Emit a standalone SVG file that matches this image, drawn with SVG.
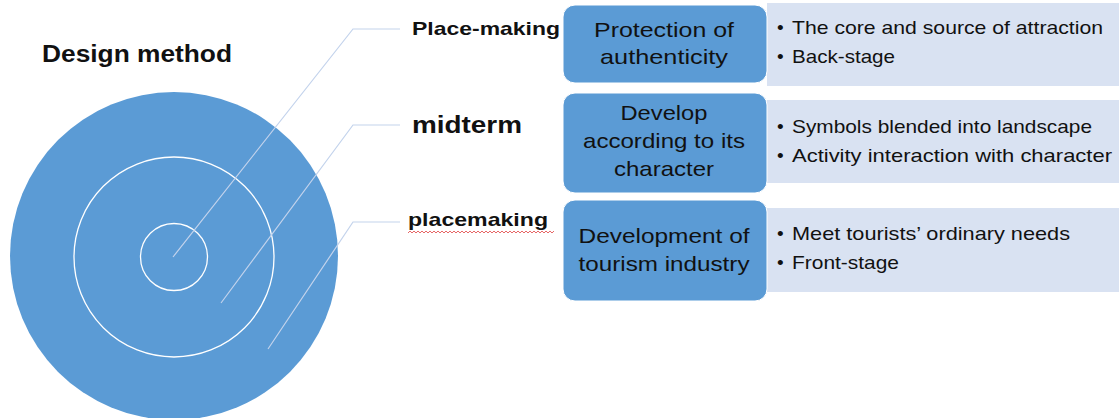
<svg xmlns="http://www.w3.org/2000/svg" width="1119" height="418" viewBox="0 0 1119 418">
<style>
.t{font-family:"Liberation Sans",Arial,sans-serif;fill:#111}
.b{font-weight:bold}
.box{fill:#5b9bd5;stroke:#ffffff;stroke-width:1}
.lt{fill:#d9e2f2}
.ring{fill:none;stroke:#ffffff;stroke-width:1.3}
.lead{fill:none;stroke:#c3d3ec;stroke-width:1.2}
.c{text-anchor:middle;font-size:21px}
.l{font-size:19px}
</style>
<rect width="1119" height="418" fill="#ffffff"/>
<g id="target">
<circle cx="174" cy="256" r="164" fill="#5b9bd5"/>
<circle class="ring" cx="174" cy="257" r="100"/>
<circle class="ring" cx="174" cy="257" r="33.5"/>
</g>
<g id="connectors">
<polyline class="lead" points="173,257 353,29 400,29"/>
<polyline class="lead" points="221,303 353,125 400,125"/>
<polyline class="lead" points="268,349 353,222 400,222"/>
</g>
<g id="title"><text class="t b" x="42" y="62" font-size="23" textLength="190" lengthAdjust="spacingAndGlyphs">Design method</text></g>
<g id="label1"><text class="t b" x="412" y="35" font-size="19" textLength="148" lengthAdjust="spacingAndGlyphs">Place-making</text></g>
<g id="label2"><text class="t b" x="412" y="133" font-size="23" textLength="110" lengthAdjust="spacingAndGlyphs">midterm</text></g>
<g id="label3"><text class="t b" x="408" y="226" font-size="19" textLength="140" lengthAdjust="spacingAndGlyphs">placemaking</text>
<path d="M408,233 l2,-2 l2,2 l2,-2 l2,2 l2,-2 l2,2 l2,-2 l2,2 l2,-2 l2,2 l2,-2 l2,2 l2,-2 l2,2 l2,-2 l2,2 l2,-2 l2,2 l2,-2 l2,2 l2,-2 l2,2 l2,-2 l2,2 l2,-2 l2,2 l2,-2 l2,2 l2,-2 l2,2 l2,-2 l2,2 l2,-2 l2,2 l2,-2 l2,2 l2,-2 l2,2 l2,-2 l2,2 l2,-2 l2,2 l2,-2 l2,2 l2,-2 l2,2 l2,-2 l2,2 l2,-2 l2,2 l2,-2 l2,2 l2,-2 l2,2 l2,-2 l2,2 l2,-2 l2,2 l2,-2 l2,2 l2,-2 l2,2 l2,-2 l2,2 l2,-2 l2,2 l2,-2 l2,2 l2,-2 l2,2 l2,-2 l2,2 l2,-2" fill="none" stroke="#e04040" stroke-width="0.8"/></g>
<g id="detail1">
<rect class="lt" x="767" y="3" width="352" height="83"/>
<text class="t l" x="777" y="34">•</text><text class="t l" x="792" y="34" textLength="311" lengthAdjust="spacingAndGlyphs">The core and source of attraction</text>
<text class="t l" x="777" y="63">•</text><text class="t l" x="792" y="63" textLength="103" lengthAdjust="spacingAndGlyphs">Back-stage</text>
</g>
<g id="detail2">
<rect class="lt" x="767" y="100" width="352" height="83"/>
<text class="t l" x="777" y="133">•</text><text class="t l" x="792" y="133" textLength="300" lengthAdjust="spacingAndGlyphs">Symbols blended into landscape</text>
<text class="t l" x="777" y="162">•</text><text class="t l" x="792" y="162" textLength="320" lengthAdjust="spacingAndGlyphs">Activity interaction with character</text>
</g>
<g id="detail3">
<rect class="lt" x="767" y="208" width="352" height="84"/>
<text class="t l" x="777" y="240">•</text><text class="t l" x="792" y="240" textLength="278" lengthAdjust="spacingAndGlyphs">Meet tourists’ ordinary needs</text>
<text class="t l" x="777" y="269">•</text><text class="t l" x="792" y="269" textLength="107" lengthAdjust="spacingAndGlyphs">Front-stage</text>
</g>
<g id="box1">
<rect class="box" x="563" y="5" width="204" height="78" rx="12"/>
<text class="t c" x="664" y="37" textLength="140" lengthAdjust="spacingAndGlyphs">Protection of</text>
<text class="t c" x="664" y="64" textLength="128" lengthAdjust="spacingAndGlyphs">authenticity</text>
</g>
<g id="box2">
<rect class="box" x="563" y="93" width="204" height="100" rx="12"/>
<text class="t c" x="664" y="120" textLength="87" lengthAdjust="spacingAndGlyphs">Develop</text>
<text class="t c" x="664" y="148" textLength="162" lengthAdjust="spacingAndGlyphs">according to its</text>
<text class="t c" x="664" y="176" textLength="100" lengthAdjust="spacingAndGlyphs">character</text>
</g>
<g id="box3">
<rect class="box" x="563" y="200" width="204" height="101" rx="12"/>
<text class="t c" x="664" y="243" textLength="171" lengthAdjust="spacingAndGlyphs">Development of</text>
<text class="t c" x="664" y="271" textLength="171" lengthAdjust="spacingAndGlyphs">tourism industry</text>
</g>
</svg>
